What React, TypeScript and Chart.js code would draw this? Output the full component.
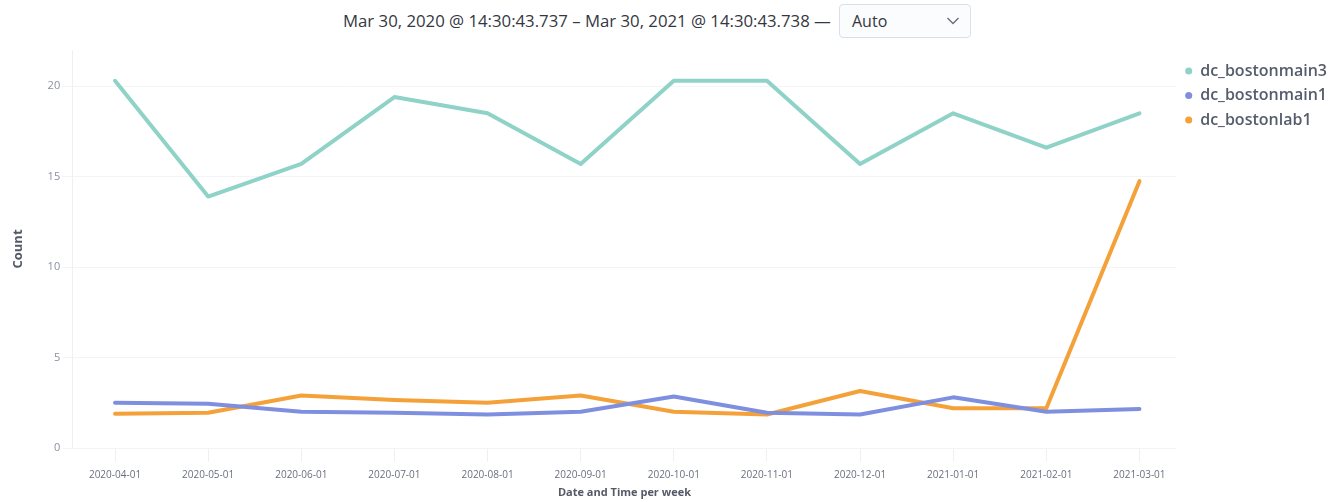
import React, { useEffect, useRef } from "react";
import { Chart, registerables } from "chart.js";

Chart.register(...registerables);

const categories = [
  "2020-04-01", "2020-05-01", "2020-06-01", "2020-07-01", "2020-08-01", "2020-09-01",
  "2020-10-01", "2020-11-01", "2020-12-01", "2021-01-01", "2021-02-01", "2021-03-01",
];
const seriesNames = ["dc_bostonmain3", "dc_bostonmain1", "dc_bostonlab1"];
const bostonmain3 = [20.3, 13.9, 15.7, 19.4, 18.5, 15.7, 20.3, 20.3, 15.7, 18.5, 16.6, 18.5];
const bostonmain1 = [2.5, 2.45, 2.0, 1.95, 1.85, 2.0, 2.85, 1.95, 1.85, 2.8, 2.0, 2.15];
const bostonlab1 = [1.9, 1.95, 2.9, 2.65, 2.5, 2.9, 2.0, 1.85, 3.15, 2.2, 2.2, 14.75];
const seriesColors = ["#8fd3c8", "#7f8fe0", "#f5a13a"];
const yTickValues = [0, 5, 10, 15, 20];

const timeRangeText = "Mar 30, 2020 @ 14:30:43.737 \u2013 Mar 30, 2021 @ 14:30:43.738 \u2014";
const intervalText = "Auto";
const yTitle = "Count";
const xTitle = "Date and Time per week";

export default function App() {
  const canvasRef = useRef<HTMLCanvasElement | null>(null);

  useEffect(() => {
    document.body.style.margin = "0";
    const canvas = canvasRef.current;
    if (!canvas) return;
    const allSeries = [bostonmain3, bostonmain1, bostonlab1];
    const chart = new Chart(canvas, {
      type: "line",
      data: {
        datasets: allSeries.map((vals, i) => ({
          label: seriesNames[i],
          data: vals.map((v, j) => ({ x: j, y: v })),
          borderColor: seriesColors[i],
          backgroundColor: seriesColors[i],
          borderWidth: 4,
          pointRadius: 0,
          pointHoverRadius: 0,
          tension: 0,
          borderCapStyle: "round",
          borderJoinStyle: "round",
          fill: false,
        })),
      },
      options: {
        animation: false,
        responsive: false,
        maintainAspectRatio: false,
        layout: { padding: { left: 0, top: 10, right: 1, bottom: 0 } },
        plugins: {
          tooltip: { enabled: false },
          legend: {
            display: true,
            position: "right",
            align: "start",
            title: { display: true, text: "", padding: 0, font: { size: 3.75 } },
            labels: {
              usePointStyle: true,
              pointStyle: "circle",
              boxWidth: 7,
              boxHeight: 5,
              padding: 8.5,
              color: "#555c6b",
              font: { family: "'Open Sans', sans-serif", size: 16, weight: "600" },
              generateLabels: (c: any) =>
                Chart.defaults.plugins.legend.labels
                  .generateLabels(c)
                  .map((l: any) => ({ ...l, lineWidth: 0 })),
            },
          },
        },
        scales: {
          x: {
            type: "linear",
            min: -0.46,
            max: 11.4,
            afterBuildTicks: (scale: any) => {
              scale.ticks = categories.map((_, i) => ({ value: i }));
            },
            ticks: {
              autoSkip: false,
              maxRotation: 0,
              padding: 7,
              color: "#69707d",
              font: { family: "'Open Sans', sans-serif", size: 10 },
              callback: (v: any) => categories[Math.round(Number(v))] ?? "",
            },
            grid: {
              drawOnChartArea: false,
              drawTicks: true,
              tickLength: 14,
              color: "#eef0f3",
            },
            border: { display: false },
            title: {
              display: true,
              text: xTitle,
              color: "#535966",
              font: { family: "'Open Sans', sans-serif", size: 11, weight: "bold" },
              padding: { top: -2.2, bottom: 3 },
            },
          },
          y: {
            type: "linear",
            min: 0,
            max: 22,
            afterBuildTicks: (scale: any) => {
              scale.ticks = yTickValues.map((v) => ({ value: v }));
            },
            ticks: {
              padding: 2,
              color: "#8a919e",
              font: { family: "'Open Sans', sans-serif", size: 11 },
            },
            grid: {
              color: "#f3f4f7",
              tickLength: 10,
            },
            border: { display: true, color: "#eef0f3" },
            title: {
              display: true,
              text: yTitle,
              color: "#535966",
              font: { family: "'Open Sans', sans-serif", size: 13, weight: "bold" },
              padding: { top: 10, bottom: 20 },
            },
          },
        },
      },
    });
    return () => chart.destroy();
  }, []);

  return (
    <div style={{ position: "relative", width: 1338, height: 502, background: "#ffffff", overflow: "hidden" }}>
      <div
        style={{
          position: "absolute",
          left: 343,
          top: 11,
          fontFamily: "'Open Sans', sans-serif",
          fontSize: 16.75,
          color: "#343741",
          whiteSpace: "nowrap",
          lineHeight: "20px",
        }}
      >
        {timeRangeText}
      </div>
      <div
        style={{
          position: "absolute",
          left: 839,
          top: 4,
          width: 132,
          height: 34,
          boxSizing: "border-box",
          border: "1px solid #d9e0ea",
          borderRadius: 4,
          background: "#fbfcfd",
          fontFamily: "'Open Sans', sans-serif",
          fontSize: 16,
          color: "#343741",
        }}
      >
        <span style={{ position: "absolute", left: 12, top: 6, lineHeight: "20px" }}>{intervalText}</span>
        <svg style={{ position: "absolute", right: 10, top: 11 }} width="14" height="10" viewBox="0 0 14 10">
          <polyline points="1.5,2 7,7.5 12.5,2" fill="none" stroke="#69707d" strokeWidth="1.4" />
        </svg>
      </div>
      <canvas
        ref={canvasRef}
        width={1338}
        height={462}
        style={{ position: "absolute", left: 0, top: 40, width: 1338, height: 462 }}
      />
    </div>
  );
}
